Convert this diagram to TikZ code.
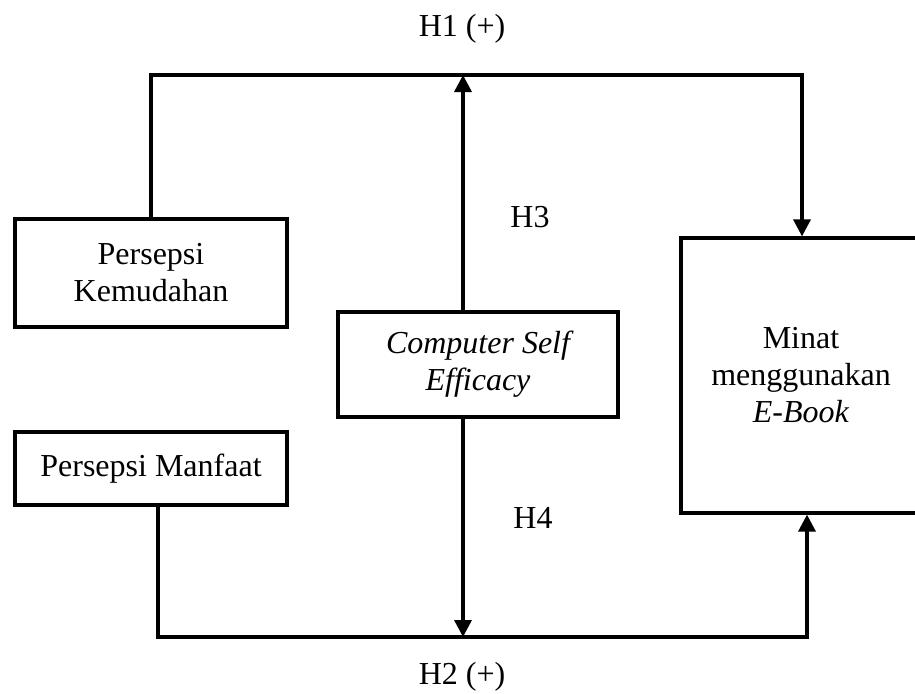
\documentclass[tikz,border=0pt]{standalone}
\usepackage{fontspec}
\setmainfont{Liberation Serif}
\usetikzlibrary{arrows.meta}
\begin{document}
\begin{tikzpicture}[x=1pt,y=-1pt,
  every node/.style={font=\fontsize{32}{37}\selectfont},
  boxnode/.style={draw,line width=3.2pt,rectangle,inner sep=0pt,align=center},
  conn/.style={line width=3.4pt},
  arr/.style={conn,-{Triangle[length=17pt,width=17pt]}},
  lbl/.style={anchor=base,inner sep=0pt}]
\useasboundingbox (0,0) rectangle (915,693);
\clip (0,0) rectangle (915,693);
\node[boxnode,minimum width=272pt,minimum height=108pt] (kem) at (151,273) {Persepsi\\Kemudahan};
\node[boxnode,minimum width=272pt,minimum height=73pt] (man) at (151,468.5) {Persepsi Manfaat};
\node[boxnode,minimum width=280pt,minimum height=105pt] (cse) at (478,364.5) {\itshape Computer Self\\\itshape Efficacy};
\node[boxnode,minimum width=240pt,minimum height=275pt] (minat) at (801,375.5) {Minat\\menggunakan\\\textit{E-Book}};
\coordinate (tl) at (151,75);
\coordinate (tr) at (802,75);
\coordinate (tm) at (463,75);
\coordinate (bl) at (158,637);
\coordinate (br) at (807,637);
\coordinate (bm) at (463,637);
\draw[arr] (tl |- kem.north) -- (tl) -- (tr) -- (tr |- minat.north);
\draw[arr] (tm |- cse.north) -- (tm);
\draw[arr] (bl |- man.south) -- (bl) -- (br) -- (br |- minat.south);
\draw[arr] (bm |- cse.south) -- (bm);
\node[lbl] (h1) at (462,37) {H1 (+)};
\node[lbl] (h2) at (462,684) {H2 (+)};
\node[lbl] (h3) at (530,227) {H3};
\node[lbl] (h4) at (533,528) {H4};
\end{tikzpicture}
\end{document}
